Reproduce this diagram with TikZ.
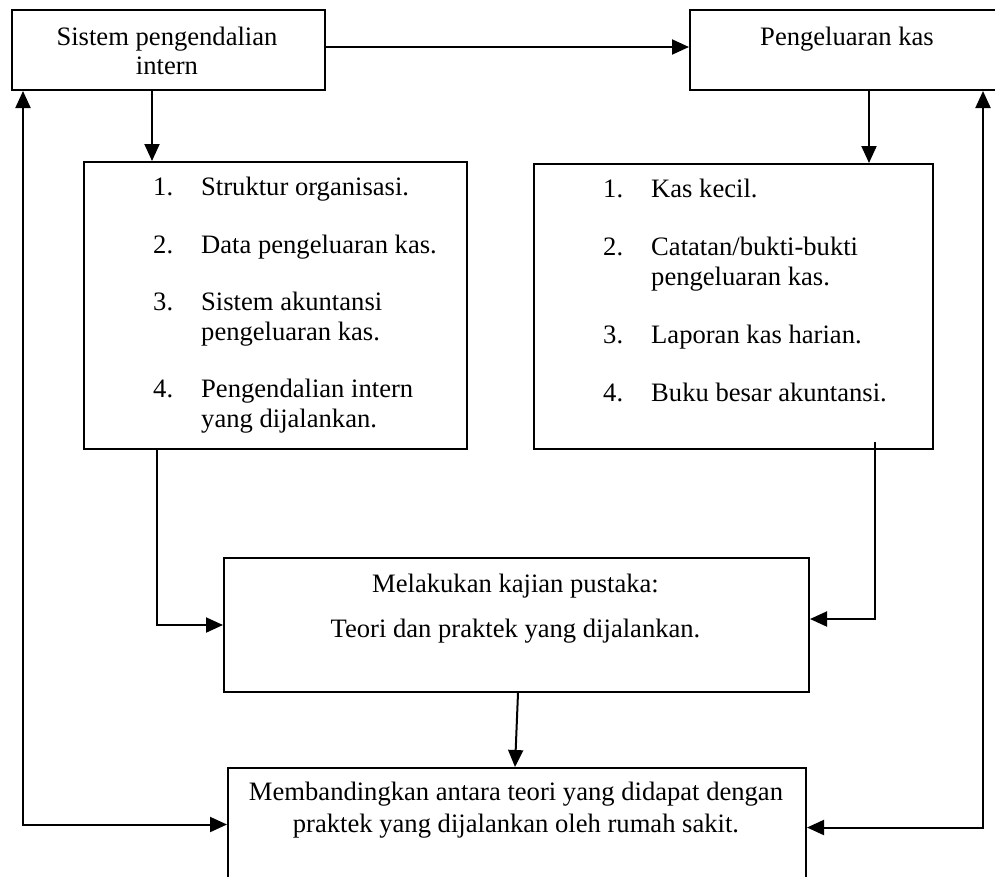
\documentclass[tikz,border=0pt]{standalone}
\usepackage{fontspec}
\setmainfont{Liberation Serif}
\usetikzlibrary{arrows.meta}
\begin{document}
\begin{tikzpicture}[x=1pt,y=-1pt,
  box/.style={draw,line width=2pt,rectangle,inner sep=0pt,anchor=north west},
  conn/.style={line width=2pt,-{Triangle[length=17pt,width=15pt]}},
  dconn/.style={line width=2pt,{Triangle[length=17pt,width=15pt]}-{Triangle[length=17pt,width=15pt]}},
  txt/.style={font=\fontsize{26.6}{31}\selectfont,inner sep=0pt,anchor=base},
  ltxt/.style={font=\fontsize{26.6}{31}\selectfont,inner sep=0pt,anchor=base west},
]
\useasboundingbox (0,0) rectangle (995,876);

% boxes
\node[box,minimum width=313pt,minimum height=80pt] (A) at (11,9) {};
\node[box,minimum width=316pt,minimum height=80pt] (B) at (689,9) {};
\node[box,minimum width=383pt,minimum height=287pt] (C) at (83,161) {};
\node[box,minimum width=399pt,minimum height=285pt] (D) at (533,163) {};
\node[box,minimum width=585pt,minimum height=134pt] (E) at (223,557) {};
\node[box,minimum width=578pt,minimum height=113pt] (F) at (227,767) {};

% texts
\node[txt] (A1) at (167,45) {Sistem pengendalian};
\node[txt] (A2) at (167,74) {intern};
\node[txt] (B1) at (847,45) {Pengeluaran kas};

\node[ltxt] (C1n) at (153,195) {1.};
\node[ltxt] (C1) at (201,195) {Struktur organisasi.};
\node[ltxt] (C2n) at (153,253) {2.};
\node[ltxt] (C2) at (201,253) {Data pengeluaran kas.};
\node[ltxt] (C3n) at (153,310) {3.};
\node[ltxt] (C3) at (201,310) {Sistem akuntansi};
\node[ltxt] (C3b) at (201,340) {pengeluaran kas.};
\node[ltxt] (C4n) at (153,397) {4.};
\node[ltxt] (C4) at (201,397) {Pengendalian intern};
\node[ltxt] (C4b) at (201,427) {yang dijalankan.};

\node[ltxt] (D1n) at (603,197) {1.};
\node[ltxt] (D1) at (651,197) {Kas kecil.};
\node[ltxt] (D2n) at (603,255) {2.};
\node[ltxt] (D2) at (651,255) {Catatan/bukti-bukti};
\node[ltxt] (D2b) at (651,285) {pengeluaran kas.};
\node[ltxt] (D3n) at (603,343) {3.};
\node[ltxt] (D3) at (651,343) {Laporan kas harian.};
\node[ltxt] (D4n) at (603,401) {4.};
\node[ltxt] (D4) at (651,401) {Buku besar akuntansi.};

\node[txt] (E1) at (515.5,592) {Melakukan kajian pustaka:};
\node[txt] (E2) at (515.5,637) {Teori dan praktek yang dijalankan.};

\node[txt] (F1) at (516,800) {Membandingkan antara teori yang didapat dengan};
\node[txt] (F2) at (516,832) {praktek yang dijalankan oleh rumah sakit.};

% connectors
\draw[conn] ([yshift=3pt]A.east) -- ([yshift=3pt]B.west);
\draw[conn] ([xshift=141pt]A.south west) -- ([xshift=69pt]C.north west);
\draw[conn] ([xshift=180pt]B.south west) -- ([xshift=336pt]D.north west);
\draw[conn] ([xshift=74pt]C.south west) |- (E.west);
\draw[conn] ([xshift=342pt,yshift=8pt]D.south west) |- ([yshift=6pt]E.east);
\draw[conn] ([xshift=295pt]E.south west) -- ([xshift=288pt]F.north west);
\draw[dconn] ([xshift=12pt]A.south west) |- (F.west);
\draw[dconn] ([xshift=294pt]B.south west) |- ([yshift=-3pt]F.east);
\end{tikzpicture}
\end{document}
